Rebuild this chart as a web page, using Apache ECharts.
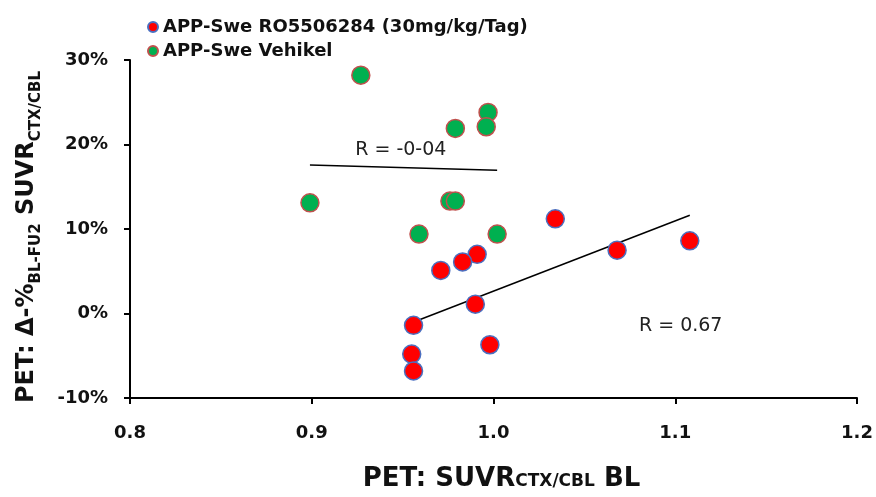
<!DOCTYPE html>
<html>
<head>
<meta charset="utf-8">
<script src="https://cdn.jsdelivr.net/npm/echarts@6/dist/echarts.min.js"></script>
<style>
  html, body { margin: 0; padding: 0; background: #fff; }
  #chart { width: 876px; height: 497px; }
</style>
</head>
<body>
<div id="chart"></div>
<script>
// 图例名称
const seriesNames = ['APP-Swe RO5506284 (30mg/kg/Tag)', 'APP-Swe Vehikel'];
// 治疗组 (红点)
const redX = [1.034, 1.108, 1.068, 0.991, 0.983, 0.971, 0.990, 0.998, 0.956, 0.955, 0.956];
const redY = [11.2, 8.6, 7.5, 7.0, 6.1, 5.1, 1.1, -3.7, -1.4, -4.8, -6.8];
// 对照组 (绿点)
const greenX = [0.927, 0.997, 0.996, 0.979, 0.899, 0.976, 0.979, 0.959, 1.002];
const greenY = [28.2, 23.8, 22.1, 21.9, 13.1, 13.3, 13.3, 9.4, 9.4];
// 相关系数文字及位置
const rTexts = ['R = -0-04', 'R = 0.67'];
const rPos = [[0.949, 19.4], [1.103, -1.5]];
// 坐标轴
const xTicks = [0.8, 0.9, 1.0, 1.1, 1.2];
const yTicks = [-10, 0, 10, 20, 30];

function pairs(xs, ys) {
  return xs.map((x, i) => [x, ys[i]]);
}

// 最小二乘趋势线
function trend(xs, ys) {
  const n = xs.length;
  const mx = xs.reduce((a, b) => a + b, 0) / n;
  const my = ys.reduce((a, b) => a + b, 0) / n;
  let sxy = 0, sxx = 0;
  for (let i = 0; i < n; i++) {
    sxy += (xs[i] - mx) * (ys[i] - my);
    sxx += (xs[i] - mx) * (xs[i] - mx);
  }
  const k = sxy / sxx;
  const x0 = Math.min(...xs), x1 = Math.max(...xs);
  return [[x0, my + k * (x0 - mx)], [x1, my + k * (x1 - mx)]];
}

const chart = echarts.init(document.getElementById('chart'));

const tickFont = { fontFamily: 'DejaVu Sans', fontWeight: 'bold', fontSize: 18, color: '#111' };

function trendSeries(xs, ys, idx) {
  return {
    type: 'line',
    data: trend(xs, ys),
    symbol: 'none',
    silent: true,
    z: 1,
    lineStyle: { color: '#000', width: 1.5 },
    markPoint: {
      symbol: 'circle',
      symbolSize: 0,
      label: {
        show: true,
        position: 'inside',
        formatter: rTexts[idx],
        fontFamily: 'DejaVu Sans',
        fontSize: 19,
        color: '#222'
      },
      data: [{ coord: rPos[idx] }]
    }
  };
}

const option = {
  animation: false,
  backgroundColor: '#fff',
  legend: {
    orient: 'vertical',
    left: 142,
    top: 12,
    itemWidth: 10,
    itemHeight: 10,
    itemGap: 4,
    icon: 'circle',
    data: seriesNames,
    textStyle: { fontFamily: 'DejaVu Sans', fontWeight: 'bold', fontSize: 18, lineHeight: 20, color: '#111' }
  },
  grid: { left: 130, right: 19, top: 60, bottom: 99, containLabel: false, outerBoundsMode: 'none' },
  xAxis: {
    type: 'value',
    min: xTicks[0],
    max: xTicks[xTicks.length - 1],
    interval: 0.1,
    splitLine: { show: false },
    axisLine: { onZero: false, lineStyle: { color: '#000', width: 2 } },
    axisTick: { show: true, length: 6, lineStyle: { color: '#000', width: 2 } },
    axisLabel: Object.assign({ margin: 26, formatter: v => v.toFixed(1) }, tickFont),
    name: '{b|PET: SUVR}{s|CTX/CBL}{b| BL}',
    nameLocation: 'middle',
    nameGap: 70,
    nameTextStyle: {
      padding: [0, 0, 0, 16],
      rich: {
        b: { fontFamily: 'DejaVu Sans', fontWeight: 'bold', fontSize: 26, lineHeight: 22, color: '#111' },
        s: { fontFamily: 'DejaVu Sans', fontWeight: 'bold', fontSize: 17, lineHeight: 17, verticalAlign: 'bottom', color: '#111' }
      }
    }
  },
  yAxis: {
    type: 'value',
    min: yTicks[0],
    max: yTicks[yTicks.length - 1],
    interval: 10,
    splitLine: { show: false },
    axisLine: { show: true, onZero: false, lineStyle: { color: '#000', width: 2 } },
    axisTick: { show: true, length: 6, lineStyle: { color: '#000', width: 2 } },
    axisLabel: Object.assign({ margin: 22, formatter: '{value}%' }, tickFont),
    name: '{b|PET: Δ-%}{s|BL-FU2}{b| SUVR}{s|CTX/CBL}',
    nameLocation: 'middle',
    nameRotate: 90,
    nameGap: 86,
    nameTextStyle: {
      padding: [0, 16, 0, 0],
      rich: {
        b: { fontFamily: 'DejaVu Sans', fontWeight: 'bold', fontSize: 24, lineHeight: 34, color: '#111' },
        s: { fontFamily: 'DejaVu Sans', fontWeight: 'bold', fontSize: 15, lineHeight: 15, verticalAlign: 'bottom', color: '#111' }
      }
    }
  },
  series: [
    {
      name: seriesNames[0],
      type: 'scatter',
      data: pairs(redX, redY),
      symbolSize: 18,
      z: 3,
      itemStyle: { color: '#ff0000', borderColor: '#4a6fc0', borderWidth: 1.5, opacity: 1 }
    },
    {
      name: seriesNames[1],
      type: 'scatter',
      data: pairs(greenX, greenY),
      symbolSize: 18,
      z: 3,
      itemStyle: { color: '#00b050', borderColor: '#c0504d', borderWidth: 1.5, opacity: 1 }
    },
    trendSeries(greenX, greenY, 0),
    trendSeries(redX, redY, 1)
  ]
};

chart.setOption(option);
</script>
</body>
</html>
